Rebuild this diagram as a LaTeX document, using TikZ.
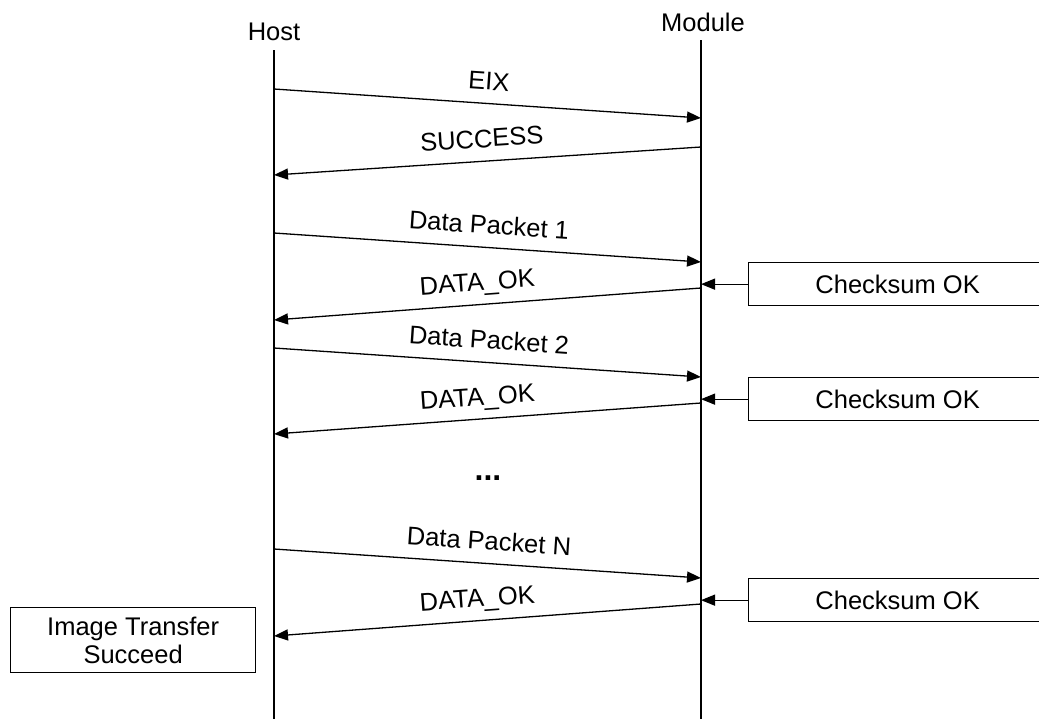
\documentclass[tikz,border=0pt]{standalone}
\usepackage{fontspec}
\setmainfont{Liberation Sans}
\usetikzlibrary{arrows.meta}
\begin{document}
\begin{tikzpicture}[x=1pt,y=-1pt,line width=1.3pt,
  msg/.style={-{Triangle[length=14pt,width=11pt]}},
  lbl/.style={font=\fontsize{25.5}{28}\selectfont,inner sep=0pt,text depth=0pt},
  mlbl/.style={lbl,sloped,above=13pt},
  box/.style={draw,line width=1.3pt,font=\fontsize{25.5}{28}\selectfont,align=center,inner sep=0pt},
  chk/.style={box,minimum width=298pt,minimum height=43pt,anchor=north west}]
\useasboundingbox (0,0) rectangle (1039,718);
\clip (0,0) rectangle (1039,718);
% lifelines
\node[lbl] (host) at (274,32) {Host};
\node[lbl] (module) at (703,22) {Module};
\coordinate (hT) at (274,50);
\coordinate (hB) at (274,720);
\coordinate (mT) at (701,40);
\coordinate (mB) at (701,720);
\draw (hT) -- (hB);
\draw (mT) -- (mB);
% message endpoints
\coordinate (h1) at (274,89);  \coordinate (m1) at (701,118);
\coordinate (m2) at (701,147); \coordinate (h2) at (274,175);
\coordinate (h3) at (274,233); \coordinate (m3) at (701,262);
\coordinate (m4) at (701,288); \coordinate (h4) at (274,320);
\coordinate (h5) at (274,348); \coordinate (m5) at (701,377);
\coordinate (m6) at (701,403); \coordinate (h6) at (274,434);
\coordinate (h7) at (274,549); \coordinate (m7) at (701,578);
\coordinate (m8) at (701,604); \coordinate (h8) at (274,636);
\draw[msg] (h1) -- node[mlbl] {EIX} (m1);
\draw[msg] (m2) -- node[mlbl,pos=0.51] {SUCCESS} (h2);
\draw[msg] (h3) -- node[mlbl] {Data Packet 1} (m3);
\draw[msg] (m4) -- node[mlbl,pos=0.52] {DATA\_OK} (h4);
\draw[msg] (h5) -- node[mlbl] {Data Packet 2} (m5);
\draw[msg] (m6) -- node[mlbl,pos=0.52] {DATA\_OK} (h6);
\node[lbl,font=\fontsize{32}{32}\bfseries] (dots) at (488,478) {...};
\draw[msg] (h7) -- node[mlbl] {Data Packet N} (m7);
\draw[msg] (m8) -- node[mlbl,pos=0.52] {DATA\_OK} (h8);
% checksum boxes
\node[chk] (c1) at (748,262) {Checksum OK};
\node[chk] (c2) at (748,377) {Checksum OK};
\node[chk] (c3) at (748,578) {Checksum OK};
\draw[msg] (c1.west) -- (c1.west -| mT);
\draw[msg] (c2.west) -- (c2.west -| mT);
\draw[msg] (c3.west) -- (c3.west -| mT);
% final box
\node[box,minimum width=245pt,minimum height=65pt,anchor=north west] (done) at (10,607) {Image Transfer\\Succeed};
\end{tikzpicture}
\end{document}
